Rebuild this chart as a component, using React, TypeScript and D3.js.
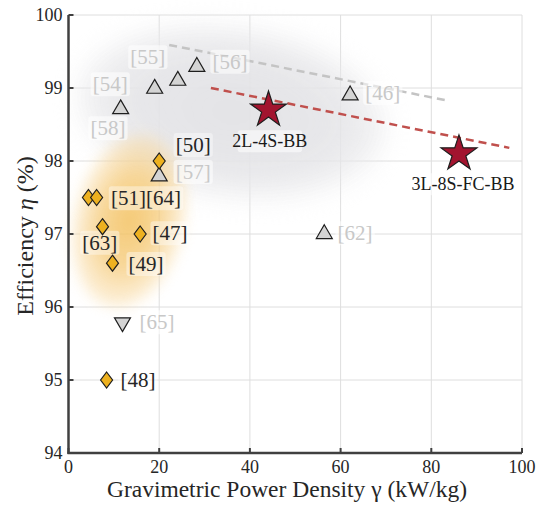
import React from "react";
import * as d3 from "d3";

const W = 536;
const H = 508;

const xTicks = [0, 20, 40, 60, 80, 100];
const yTicks = [94, 95, 96, 97, 98, 99, 100];

// gray up-triangles (other works)
const triUp: [number, number][] = [
  [11.5, 98.72],
  [19.0, 99.0],
  [24.1, 99.11],
  [28.3, 99.3],
  [20.0, 97.8],
  [62.1, 98.91],
  [56.4, 97.01],
];
// gray down-triangle
const triDown: [number, number][] = [[11.9, 95.78]];
// orange diamonds
const diamonds: [number, number][] = [
  [20.0, 98.0],
  [4.4, 97.5],
  [6.2, 97.5],
  [7.5, 97.1],
  [15.8, 97.0],
  [9.7, 96.6],
  [8.4, 95.0],
];
// proposed designs (stars)
const stars: [number, number][] = [
  [44.1, 98.7],
  [86.1, 98.1],
];

// gray labels
const grayLabels: { t: string; x: number; y: number }[] = [
  { t: "[55]", x: 17.5, y: 99.42 },
  { t: "[56]", x: 35.6, y: 99.36 },
  { t: "[54]", x: 9.2, y: 99.05 },
  { t: "[58]", x: 8.7, y: 98.45 },
  { t: "[57]", x: 27.5, y: 97.85 },
  { t: "[46]", x: 69.3, y: 98.93 },
  { t: "[62]", x: 63.2, y: 97.01 },
  { t: "[65]", x: 19.5, y: 95.79 },
];
// dark labels
const darkLabels: { t: string; x: number; y: number }[] = [
  { t: "[50]", x: 27.5, y: 98.22 },
  { t: "[51][64]", x: 17.1, y: 97.49 },
  { t: "[63]", x: 6.9, y: 96.88 },
  { t: "[47]", x: 22.4, y: 97.01 },
  { t: "[49]", x: 17.1, y: 96.59 },
  { t: "[48]", x: 15.3, y: 95.0 },
];
const starLabels: { t: string; x: number; y: number }[] = [
  { t: "2L-4S-BB", x: 44.4, y: 98.27 },
  { t: "3L-8S-FC-BB", x: 87.0, y: 97.68 },
];

// trend lines
const grayTrend: [number, number][] = [
  [22.2, 99.59],
  [83.4, 98.83],
];
const redTrend: [number, number][] = [
  [31.4, 99.0],
  [97.2, 98.18],
];

// shaded regions (centre, radii in data units, rotation deg)
const grayBlob = { cx: 36, cy: 98.67, rx: 34, ry: 1.15, rot: 8 };
const orangeBlob = { cx: 13.4, cy: 97.18, rx: 12, ry: 1.2, rot: 13 };

const FONT = "'Liberation Serif', 'Times New Roman', Times, serif";

export default function App() {
  const x = d3.scaleLinear().domain([0, 100]).range([68.5, 522]);
  const y = d3.scaleLinear().domain([94, 100]).range([453, 15]);

  const triPath = (w: number) => {
    const h = w * 0.866;
    return `M0,${-h * 0.62}L${w / 2},${h * 0.38}L${-w / 2},${h * 0.38}Z`;
  };
  const triDownPath = (w: number) => {
    const h = w * 0.866;
    return `M0,${h * 0.62}L${w / 2},${-h * 0.38}L${-w / 2},${-h * 0.38}Z`;
  };
  const diaPath = (hw: number, hh: number) =>
    `M0,${-hh}L${hw},0L0,${hh}L${-hw},0Z`;
  const starPath = d3.symbol(d3.symbolStar, 400)() as string;

  const line = d3
    .line<[number, number]>()
    .x((d) => x(d[0]))
    .y((d) => y(d[1]));

  const blob = (b: typeof grayBlob) => ({
    cx: x(b.cx),
    cy: y(b.cy),
    rx: x(b.rx) - x(0),
    ry: y(94) - y(94 + b.ry),
  });
  const gb = blob(grayBlob);
  const ob = blob(orangeBlob);

  const labelBox = (t: string, fs: number) => t.length * fs * 0.42 + 4;

  return (
    <svg width={W} height={H} style={{ display: "block", position: "absolute", left: 0, top: 0 }}>
      <defs>
        <filter id="blurG" x="-50%" y="-50%" width="200%" height="200%">
          <feGaussianBlur stdDeviation="13" />
        </filter>
        <filter id="blurO" x="-50%" y="-50%" width="200%" height="200%">
          <feGaussianBlur stdDeviation="7" />
        </filter>
        <radialGradient id="gradO">
          <stop offset="0%" stopColor="#f2bd55" stopOpacity="1" />
          <stop offset="55%" stopColor="#f5c873" stopOpacity="0.88" />
          <stop offset="100%" stopColor="#f9dca8" stopOpacity="0.5" />
        </radialGradient>
        <radialGradient id="gradG">
          <stop offset="0%" stopColor="#e2e2e5" stopOpacity="1" />
          <stop offset="70%" stopColor="#e5e5e8" stopOpacity="0.95" />
          <stop offset="100%" stopColor="#eaeaec" stopOpacity="0.65" />
        </radialGradient>
      </defs>
      <rect width={W} height={H} fill="#fff" />

      {/* grid */}
      {xTicks.map((t) => (
        <line key={"gx" + t} x1={x(t)} x2={x(t)} y1={y(94)} y2={y(100)} stroke="#dedede" strokeWidth={1} />
      ))}
      {yTicks.map((t) => (
        <line key={"gy" + t} x1={x(0)} x2={x(100)} y1={y(t)} y2={y(t)} stroke="#dedede" strokeWidth={1} />
      ))}

      {/* shaded regions */}
      <ellipse
        cx={gb.cx}
        cy={gb.cy}
        rx={gb.rx}
        ry={gb.ry}
        fill="url(#gradG)"
        filter="url(#blurG)"
        transform={`rotate(${grayBlob.rot},${gb.cx},${gb.cy})`}
        opacity={0.95}
      />
      <ellipse
        cx={ob.cx}
        cy={ob.cy}
        rx={ob.rx}
        ry={ob.ry}
        fill="url(#gradO)"
        filter="url(#blurO)"
        transform={`rotate(${orangeBlob.rot},${ob.cx},${ob.cy})`}
        opacity={0.82}
      />

      {/* trend lines */}
      <path d={line(grayTrend) as string} stroke="#c4c4c4" strokeWidth={2.5} strokeDasharray="8,5" fill="none" />
      <path d={line(redTrend) as string} stroke="#c0504d" strokeWidth={2.5} strokeDasharray="8,5" fill="none" />

      {/* labels */}
      {grayLabels.map((l) => (
        <g key={l.t} transform={`translate(${x(l.x)},${y(l.y)})`}>
          <rect x={-labelBox(l.t, 21) / 2} y={-12} width={labelBox(l.t, 21)} height={24} rx={3} fill="#fff" opacity={0.55} />
          <text textAnchor="middle" dominantBaseline="central" fontFamily={FONT} fontSize={21} fill="#c8c8c8">
            {l.t}
          </text>
        </g>
      ))}
      {darkLabels.map((l) => (
        <g key={l.t} transform={`translate(${x(l.x)},${y(l.y)})`}>
          <rect x={-labelBox(l.t, 21) / 2} y={-12} width={labelBox(l.t, 21)} height={24} rx={3} fill="#fff" opacity={0.4} />
          <text textAnchor="middle" dominantBaseline="central" fontFamily={FONT} fontSize={21} fill="#262626">
            {l.t}
          </text>
        </g>
      ))}
      {starLabels.map((l) => (
        <g key={l.t} transform={`translate(${x(l.x)},${y(l.y)})`}>
          <rect x={-labelBox(l.t, 18) / 2} y={-11} width={labelBox(l.t, 18)} height={22} rx={3} fill="#fff" opacity={0.55} />
          <text textAnchor="middle" dominantBaseline="central" fontFamily={FONT} fontSize={18} fill="#1a1a1a">
            {l.t}
          </text>
        </g>
      ))}

      {/* markers */}
      {triUp.map((d, i) => (
        <path key={"tu" + i} d={triPath(16)} transform={`translate(${x(d[0])},${y(d[1])})`} fill="#d4d4d4" stroke="#1e1e1e" strokeWidth={1.2} />
      ))}
      {triDown.map((d, i) => (
        <path key={"td" + i} d={triDownPath(16)} transform={`translate(${x(d[0])},${y(d[1])})`} fill="#d4d4d4" stroke="#1e1e1e" strokeWidth={1.2} />
      ))}
      {diamonds.map((d, i) => (
        <path key={"di" + i} d={diaPath(6, 8)} transform={`translate(${x(d[0])},${y(d[1])})`} fill="#edb120" stroke="#1e1e1e" strokeWidth={1.2} />
      ))}
      {stars.map((d, i) => (
        <path key={"st" + i} d={starPath} transform={`translate(${x(d[0])},${y(d[1])})`} fill="#a2142f" stroke="#1e1e1e" strokeWidth={1.2} />
      ))}

      {/* axes */}
      <line x1={x(0)} x2={x(0)} y1={y(94) + 1} y2={y(100)} stroke="#404040" strokeWidth={2.5} />
      <line x1={x(0) - 1} x2={x(100)} y1={y(94)} y2={y(94)} stroke="#404040" strokeWidth={2.5} />
      {xTicks.map((t) => (
        <g key={"xt" + t}>
          <line x1={x(t)} x2={x(t)} y1={y(94)} y2={y(94) - 5} stroke="#404040" strokeWidth={2} />
          <text x={x(t)} y={y(94) + 20} textAnchor="middle" fontFamily={FONT} fontSize={18} fill="#262626">
            {t}
          </text>
        </g>
      ))}
      {yTicks.map((t) => (
        <g key={"yt" + t}>
          <line x1={x(0)} x2={x(0) + 5} y1={y(t)} y2={y(t)} stroke="#404040" strokeWidth={2} />
          <text x={x(0) - 6} y={y(t)} textAnchor="end" dominantBaseline="central" fontFamily={FONT} fontSize={18} fill="#262626">
            {t}
          </text>
        </g>
      ))}

      {/* axis titles */}
      <text x={287} y={497} textAnchor="middle" fontFamily={FONT} fontSize={23.5} fill="#262626">
        Gravimetric Power Density γ (kW/kg)
      </text>
      <text
        transform={`translate(33,236) rotate(-90)`}
        textAnchor="middle"
        fontFamily={FONT}
        fontSize={24}
        fill="#262626"
      >
        Efficiency <tspan fontStyle="italic">η</tspan> (%)
      </text>
    </svg>
  );
}
